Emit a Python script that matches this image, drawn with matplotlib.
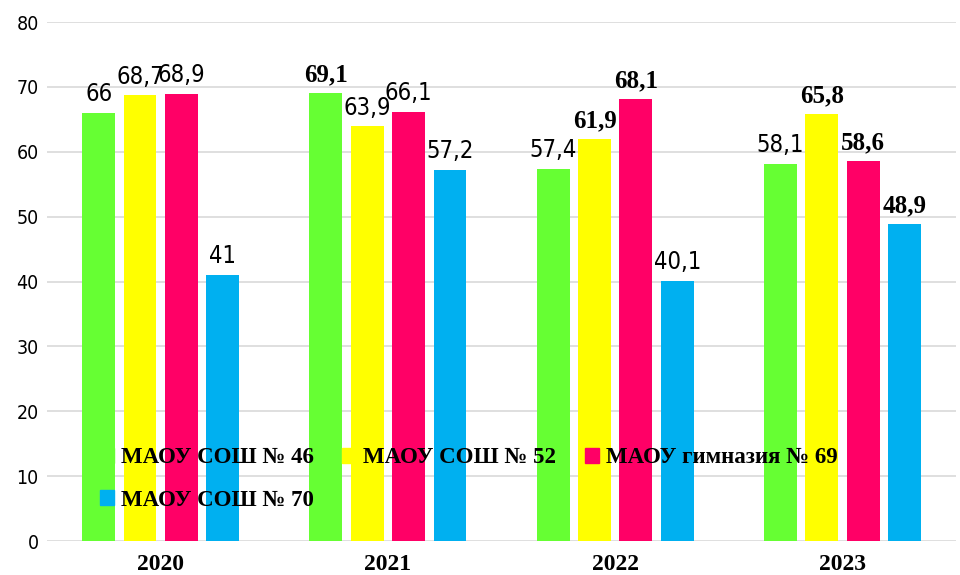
import matplotlib.pyplot as plt
import numpy as np
from matplotlib.patches import Patch

years = ['2020', '2021', '2022', '2023']
schools = ['МАОУ СОШ № 46', 'МАОУ СОШ № 52', 'МАОУ гимназия № 69', 'МАОУ СОШ № 70']
values = [
    [66.0, 69.1, 57.4, 58.1],
    [68.7, 63.9, 61.9, 65.8],
    [68.9, 66.1, 68.1, 58.6],
    [41.0, 57.2, 40.1, 48.9],
]
label_texts = [
    ['66', '69,1', '57,4', '58,1'],
    ['68,7', '63,9', '61,9', '65,8'],
    ['68,9', '66,1', '68,1', '58,6'],
    ['41', '57,2', '40,1', '48,9'],
]
bold_labels = [
    [False, True, False, False],
    [False, False, True, True],
    [False, False, True, True],
    [False, False, False, True],
]
colors = ['#66FF33', '#FFFF00', '#FF0066', '#00B0F0']

SANS = dict(family='DejaVu Sans', fontstretch='condensed', fontsize=17)
SERIF_B = dict(family='Liberation Serif', fontweight='bold', fontsize=18)


def main():
    fig = plt.figure(figsize=(9.6, 5.75), dpi=100)
    ax = fig.add_axes([0.049, 0.0591, 0.947, 0.9026])

    x = np.arange(len(years))
    width = 0.145
    step = 0.182

    for i, vals in enumerate(values):
        pos = x + (i - 1.5) * step
        ax.bar(pos, vals, width, color=colors[i], zorder=2)
        for j, v in enumerate(vals):
            style = SERIF_B if bold_labels[i][j] else SANS
            ax.annotate(label_texts[i][j], (pos[j], v), xytext=(0, 8.5),
                        textcoords='offset points', ha='center',
                        va='baseline', color='black', zorder=3, **style)

    ax.set_xlim(-0.5, 3.5)
    ax.set_ylim(0, 80)
    ax.set_yticks(range(0, 81, 10))
    ax.yaxis.grid(True, color='#D9D9D9', linewidth=1.2, zorder=0)
    ax.set_axisbelow(True)
    for s in ax.spines.values():
        s.set_visible(False)
    ax.tick_params(length=0)
    ax.tick_params(axis='y', pad=6)
    ax.tick_params(axis='x', pad=9.5)

    ax.set_xticks(x)
    ax.set_xticklabels(years)
    for t in ax.get_xticklabels():
        t.set_fontfamily('Liberation Serif')
        t.set_fontweight('bold')
        t.set_fontsize(17)
    for t in ax.get_yticklabels():
        t.set_fontfamily('DejaVu Sans')
        t.set_fontstretch('condensed')
        t.set_fontsize(14)

    handles = [Patch(color=c) for c in colors]
    order = [0, 3, 1, 2]
    leg = ax.legend([handles[k] for k in order], [schools[k] for k in order],
                    ncol=3, loc='lower left', bbox_to_anchor=(0.058, 0.058),
                    frameon=False, handlelength=0.62, handleheight=0.62,
                    handletextpad=0.3, columnspacing=1.25, labelspacing=0.95,
                    prop={'family': 'Liberation Serif', 'weight': 'bold',
                          'size': 16.5}, borderaxespad=0, borderpad=0)
    leg.set_zorder(5)

    fig.savefig('out.png', dpi=100)


if __name__ == "__main__":
    main()
